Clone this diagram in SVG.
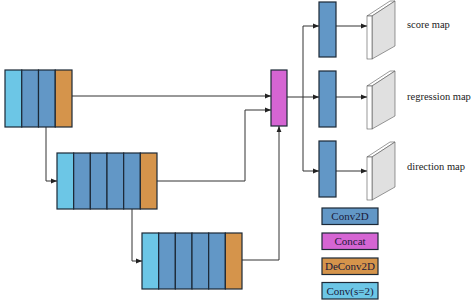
<svg xmlns="http://www.w3.org/2000/svg" width="474" height="304" viewBox="0 0 474 304">
<style>
.c{stroke:#1c2836;stroke-width:1.2}
.lb{fill:#6cc6e6}
.bl{fill:#6297c6}
.or{fill:#d5944b}
.mg{fill:#d565d3}
.ln{fill:none;stroke:#333;stroke-width:1}
.t{font-family:"Liberation Serif","DejaVu Serif",serif;font-size:10.5px;fill:#222}
.lg{font-family:"Liberation Serif","DejaVu Serif",serif;font-size:11px;fill:#1a1a3a;text-anchor:middle}
.sw{fill:#fff;stroke:#555;stroke-width:0.6}
.sg{fill:#e0e0e0;stroke:#555;stroke-width:0.6}
</style>
<defs>
<marker id="ah" viewBox="0 0 10 10" refX="10" refY="5" markerWidth="6" markerHeight="6" orient="auto" markerUnits="userSpaceOnUse">
<path d="M0,1 L10,5 L0,9 z" fill="#222"/>
</marker>
</defs>
<rect width="474" height="304" fill="#fff"/>

<g id="connectors">
<path class="ln" d="M72,96 H271" marker-end="url(#ah)"/>
<path class="ln" d="M46,127 V181 H57" marker-end="url(#ah)"/>
<path class="ln" d="M157,181 H245 V110 H271" marker-end="url(#ah)"/>
<path class="ln" d="M132,209 V261 H142" marker-end="url(#ah)"/>
<path class="ln" d="M242,260 H279 V126" marker-end="url(#ah)"/>
<path class="ln" d="M287,97 H303"/>
<path class="ln" d="M303,26 V171"/>
<path class="ln" d="M303,26 H319" marker-end="url(#ah)"/>
<path class="ln" d="M303,97 H319" marker-end="url(#ah)"/>
<path class="ln" d="M303,171 H319" marker-end="url(#ah)"/>
<path class="ln" d="M336,26 H367" marker-end="url(#ah)"/>
<path class="ln" d="M336,97 H367" marker-end="url(#ah)"/>
<path class="ln" d="M336,171 H367" marker-end="url(#ah)"/>
</g>

<g id="block1">
<rect class="c lb" x="5" y="70" width="16.75" height="57"/>
<rect class="c bl" x="21.75" y="70" width="16.75" height="57"/>
<rect class="c bl" x="38.5" y="70" width="16.75" height="57"/>
<rect class="c or" x="55.25" y="70" width="16.75" height="57"/>
</g>

<g id="block2">
<rect class="c lb" x="57" y="153" width="16.67" height="56"/>
<rect class="c bl" x="73.67" y="153" width="16.67" height="56"/>
<rect class="c bl" x="90.33" y="153" width="16.67" height="56"/>
<rect class="c bl" x="107" y="153" width="16.67" height="56"/>
<rect class="c bl" x="123.67" y="153" width="16.67" height="56"/>
<rect class="c or" x="140.33" y="153" width="16.67" height="56"/>
</g>

<g id="block3">
<rect class="c lb" x="142" y="233" width="16.67" height="56"/>
<rect class="c bl" x="158.67" y="233" width="16.67" height="56"/>
<rect class="c bl" x="175.33" y="233" width="16.67" height="56"/>
<rect class="c bl" x="192" y="233" width="16.67" height="56"/>
<rect class="c bl" x="208.67" y="233" width="16.67" height="56"/>
<rect class="c or" x="225.33" y="233" width="16.67" height="56"/>
</g>

<g id="concat">
<rect class="c mg" x="271" y="70" width="16" height="56"/>
</g>

<g id="conv_score">
<rect class="c bl" x="319" y="2" width="17" height="55"/>
</g>
<g id="conv_regression">
<rect class="c bl" x="319" y="71" width="17" height="56"/>
</g>
<g id="conv_direction">
<rect class="c bl" x="319" y="141" width="17" height="56"/>
</g>

<g id="score_map">
<polygon class="sw" points="367,16 390,1 395,1 372,16"/>
<polygon class="sg" points="372,16 395,1 395,46 372,59"/>
<rect class="sw" x="367" y="16" width="5" height="43"/>
<text class="t" x="407" y="28">score map</text>
</g>
<g id="regression_map">
<polygon class="sw" points="367,86 390,71 395,71 372,86"/>
<polygon class="sg" points="372,86 395,71 395,116 372,129"/>
<rect class="sw" x="367" y="86" width="5" height="43"/>
<text class="t" x="407" y="100">regression map</text>
</g>
<g id="direction_map">
<polygon class="sw" points="367,157 390,142 395,142 372,157"/>
<polygon class="sg" points="372,157 395,142 395,187 372,200"/>
<rect class="sw" x="367" y="157" width="5" height="43"/>
<text class="t" x="407" y="170">direction map</text>
</g>

<g id="legend_conv2d">
<rect class="c bl" x="322" y="208" width="56" height="16.5"/>
<text class="lg" x="350" y="220">Conv2D</text>
</g>
<g id="legend_concat">
<rect class="c mg" x="322" y="233" width="56" height="16.5"/>
<text class="lg" x="350" y="245">Concat</text>
</g>
<g id="legend_deconv2d">
<rect class="c or" x="322" y="258" width="56" height="16.5"/>
<text class="lg" x="350" y="270">DeConv2D</text>
</g>
<g id="legend_convs2">
<rect class="c lb" x="322" y="282.5" width="56" height="16.5"/>
<text class="lg" x="350" y="294.5">Conv(s=2)</text>
</g>
</svg>
